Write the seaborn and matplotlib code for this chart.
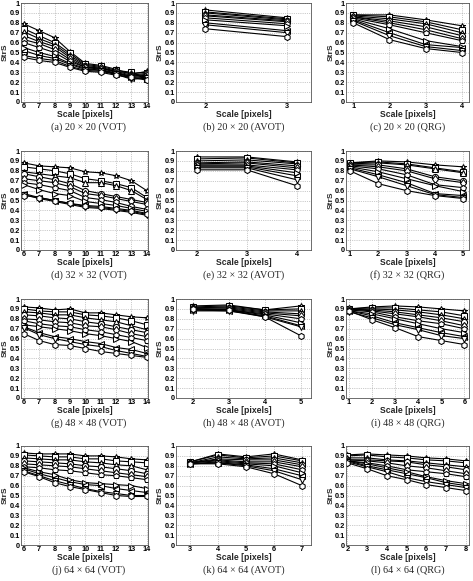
import numpy as np
import pandas as pd
import seaborn as sns
import matplotlib.pyplot as plt

# ---- data (10 curves per panel, top to bottom) ----
SCALE_VOT = [6, 7, 8, 9, 10, 11, 12, 13, 14]

VOT_20 = [
    [0.79, 0.72, 0.65, 0.51, 0.39, 0.37, 0.33, 0.28, 0.31],
    [0.74, 0.67, 0.60, 0.49, 0.38, 0.36, 0.32, 0.30, 0.23],
    [0.71, 0.64, 0.58, 0.47, 0.37, 0.35, 0.31, 0.29, 0.30],
    [0.67, 0.61, 0.56, 0.45, 0.36, 0.34, 0.31, 0.27, 0.29],
    [0.63, 0.59, 0.53, 0.43, 0.35, 0.34, 0.30, 0.26, 0.28],
    [0.60, 0.55, 0.50, 0.41, 0.35, 0.33, 0.29, 0.26, 0.27],
    [0.55, 0.50, 0.46, 0.39, 0.34, 0.32, 0.29, 0.25, 0.26],
    [0.52, 0.47, 0.44, 0.38, 0.33, 0.32, 0.28, 0.24, 0.25],
    [0.47, 0.44, 0.42, 0.36, 0.32, 0.31, 0.28, 0.23, 0.24],
    [0.45, 0.42, 0.40, 0.35, 0.31, 0.30, 0.27, 0.25, 0.22],
]
AVOT_20 = [
    [0.93, 0.85], [0.91, 0.84], [0.90, 0.83], [0.88, 0.82], [0.87, 0.81],
    [0.85, 0.79], [0.83, 0.77], [0.80, 0.72], [0.78, 0.70], [0.74, 0.66],
]
QRG_20 = [
    [0.88, 0.88, 0.83, 0.77],
    [0.88, 0.86, 0.81, 0.73],
    [0.87, 0.84, 0.79, 0.70],
    [0.86, 0.82, 0.76, 0.67],
    [0.86, 0.80, 0.73, 0.64],
    [0.85, 0.78, 0.70, 0.62],
    [0.84, 0.74, 0.62, 0.56],
    [0.83, 0.70, 0.58, 0.55],
    [0.82, 0.67, 0.56, 0.52],
    [0.80, 0.63, 0.54, 0.50],
]
VOT_32 = [
    [0.88, 0.85, 0.84, 0.83, 0.79, 0.78, 0.75, 0.70, 0.60],
    [0.84, 0.82, 0.80, 0.77, 0.72, 0.70, 0.67, 0.63, 0.53],
    [0.79, 0.77, 0.75, 0.73, 0.68, 0.68, 0.65, 0.60, 0.51],
    [0.77, 0.74, 0.71, 0.67, 0.60, 0.57, 0.54, 0.51, 0.48],
    [0.72, 0.70, 0.68, 0.64, 0.57, 0.55, 0.52, 0.49, 0.46],
    [0.68, 0.66, 0.63, 0.60, 0.53, 0.51, 0.48, 0.44, 0.41],
    [0.66, 0.61, 0.57, 0.55, 0.49, 0.47, 0.45, 0.42, 0.39],
    [0.57, 0.53, 0.50, 0.47, 0.45, 0.44, 0.42, 0.40, 0.37],
    [0.56, 0.52, 0.49, 0.46, 0.43, 0.42, 0.40, 0.38, 0.35],
    [0.55, 0.53, 0.50, 0.47, 0.44, 0.43, 0.41, 0.39, 0.36],
]
AVOT_32 = [
    [0.94, 0.94, 0.89], [0.92, 0.93, 0.88], [0.90, 0.91, 0.87],
    [0.88, 0.89, 0.85], [0.87, 0.88, 0.83], [0.86, 0.86, 0.81],
    [0.85, 0.85, 0.78], [0.84, 0.84, 0.75], [0.83, 0.83, 0.71],
    [0.81, 0.81, 0.65],
]
QRG_32 = [
    [0.88, 0.90, 0.89, 0.86, 0.84],
    [0.88, 0.89, 0.87, 0.83, 0.79],
    [0.87, 0.88, 0.86, 0.82, 0.78],
    [0.86, 0.86, 0.82, 0.74, 0.70],
    [0.86, 0.84, 0.80, 0.72, 0.68],
    [0.85, 0.82, 0.76, 0.66, 0.63],
    [0.84, 0.79, 0.72, 0.65, 0.59],
    [0.83, 0.76, 0.68, 0.57, 0.55],
    [0.82, 0.74, 0.65, 0.56, 0.53],
    [0.80, 0.67, 0.60, 0.55, 0.52],
]
VOT_48 = [
    [0.92, 0.91, 0.89, 0.90, 0.86, 0.86, 0.84, 0.82, 0.81],
    [0.90, 0.88, 0.87, 0.87, 0.84, 0.83, 0.81, 0.78, 0.74],
    [0.87, 0.86, 0.84, 0.84, 0.81, 0.79, 0.77, 0.73, 0.69],
    [0.84, 0.83, 0.81, 0.80, 0.77, 0.75, 0.72, 0.69, 0.66],
    [0.80, 0.79, 0.77, 0.76, 0.73, 0.72, 0.69, 0.65, 0.62],
    [0.78, 0.75, 0.73, 0.72, 0.69, 0.67, 0.64, 0.61, 0.58],
    [0.74, 0.72, 0.70, 0.68, 0.65, 0.63, 0.60, 0.57, 0.51],
    [0.72, 0.66, 0.62, 0.60, 0.57, 0.55, 0.51, 0.49, 0.45],
    [0.71, 0.64, 0.60, 0.57, 0.54, 0.52, 0.48, 0.45, 0.42],
    [0.65, 0.58, 0.54, 0.53, 0.50, 0.47, 0.45, 0.43, 0.41],
]
AVOT_48 = [
    [0.93, 0.94, 0.89, 0.93], [0.92, 0.93, 0.89, 0.90], [0.91, 0.92, 0.88, 0.88],
    [0.91, 0.91, 0.87, 0.85], [0.90, 0.90, 0.86, 0.83], [0.90, 0.89, 0.85, 0.80],
    [0.89, 0.89, 0.84, 0.76], [0.89, 0.88, 0.83, 0.73], [0.88, 0.88, 0.82, 0.72],
    [0.90, 0.89, 0.82, 0.63],
]
QRG_48 = [
    [0.90, 0.92, 0.93, 0.92, 0.90, 0.88],
    [0.90, 0.91, 0.91, 0.89, 0.87, 0.83],
    [0.89, 0.90, 0.89, 0.87, 0.84, 0.80],
    [0.89, 0.89, 0.87, 0.84, 0.81, 0.77],
    [0.90, 0.88, 0.85, 0.82, 0.78, 0.73],
    [0.89, 0.87, 0.82, 0.78, 0.75, 0.70],
    [0.88, 0.85, 0.80, 0.75, 0.70, 0.66],
    [0.88, 0.83, 0.76, 0.71, 0.66, 0.62],
    [0.87, 0.81, 0.74, 0.69, 0.63, 0.60],
    [0.88, 0.79, 0.71, 0.62, 0.58, 0.54],
]
VOT_64 = [
    [0.93, 0.92, 0.92, 0.92, 0.90, 0.90, 0.89, 0.87, 0.86],
    [0.91, 0.90, 0.89, 0.89, 0.87, 0.87, 0.85, 0.84, 0.83],
    [0.88, 0.87, 0.86, 0.86, 0.84, 0.83, 0.81, 0.80, 0.76],
    [0.85, 0.84, 0.83, 0.82, 0.80, 0.79, 0.77, 0.75, 0.72],
    [0.82, 0.81, 0.80, 0.79, 0.77, 0.75, 0.73, 0.71, 0.69],
    [0.79, 0.78, 0.76, 0.75, 0.73, 0.71, 0.70, 0.68, 0.66],
    [0.78, 0.74, 0.71, 0.66, 0.63, 0.62, 0.61, 0.60, 0.57],
    [0.77, 0.72, 0.68, 0.64, 0.61, 0.60, 0.57, 0.55, 0.53],
    [0.75, 0.70, 0.65, 0.61, 0.57, 0.54, 0.52, 0.50, 0.50],
    [0.74, 0.69, 0.63, 0.59, 0.56, 0.53, 0.50, 0.49, 0.49],
]
AVOT_64 = [
    [0.84, 0.92, 0.89, 0.92, 0.86],
    [0.84, 0.91, 0.88, 0.90, 0.85],
    [0.83, 0.89, 0.87, 0.88, 0.83],
    [0.83, 0.87, 0.86, 0.86, 0.81],
    [0.83, 0.86, 0.84, 0.84, 0.79],
    [0.83, 0.85, 0.83, 0.82, 0.76],
    [0.82, 0.84, 0.82, 0.80, 0.73],
    [0.82, 0.83, 0.81, 0.77, 0.70],
    [0.82, 0.83, 0.80, 0.75, 0.66],
    [0.82, 0.82, 0.79, 0.72, 0.60],
]
QRG_64 = [
    [0.91, 0.92, 0.91, 0.90, 0.88, 0.87, 0.85],
    [0.90, 0.91, 0.89, 0.88, 0.86, 0.85, 0.83],
    [0.88, 0.88, 0.86, 0.85, 0.83, 0.81, 0.79],
    [0.86, 0.86, 0.85, 0.84, 0.81, 0.79, 0.76],
    [0.86, 0.85, 0.83, 0.80, 0.78, 0.75, 0.72],
    [0.85, 0.83, 0.80, 0.76, 0.74, 0.72, 0.69],
    [0.85, 0.82, 0.78, 0.74, 0.69, 0.65, 0.62],
    [0.85, 0.80, 0.76, 0.72, 0.68, 0.63, 0.60],
    [0.84, 0.79, 0.74, 0.68, 0.64, 0.61, 0.58],
    [0.83, 0.77, 0.70, 0.66, 0.61, 0.58, 0.55],
]

# panel: data, scales, xlim, caption
PANELS = [
    (VOT_20, SCALE_VOT, (5.82, 14.08), '(a) 20 \u00d7 20 (VOT)'),
    (AVOT_20, [2, 3], (1.64, 3.29), '(b) 20 \u00d7 20 (AVOT)'),
    (QRG_20, [1, 2, 3, 4], (0.8, 4.2), '(c) 20 \u00d7 20 (QRG)'),
    (VOT_32, SCALE_VOT, (5.82, 14.08), '(d) 32 \u00d7 32 (VOT)'),
    (AVOT_32, [2, 3, 4], (1.58, 4.29), '(e) 32 \u00d7 32 (AVOT)'),
    (QRG_32, [1, 2, 3, 4, 5], (0.86, 5.21), '(f) 32 \u00d7 32 (QRG)'),
    (VOT_48, SCALE_VOT, (5.82, 14.08), '(g) 48 \u00d7 48 (VOT)'),
    (AVOT_48, [2, 3, 4, 5], (1.53, 5.29), '(h) 48 \u00d7 48 (AVOT)'),
    (QRG_48, [1, 2, 3, 4, 5, 6], (0.87, 6.2), '(i) 48 \u00d7 48 (QRG)'),
    (VOT_64, SCALE_VOT, (5.82, 14.08), '(j) 64 \u00d7 64 (VOT)'),
    (AVOT_64, [3, 4, 5, 6, 7], (2.49, 7.33), '(k) 64 \u00d7 64 (AVOT)'),
    (QRG_64, [2, 3, 4, 5, 6, 7, 8], (1.93, 8.17), '(l) 64 \u00d7 64 (QRG)'),
]

MARKERS = ['*', 's', '^', 'o', 'd', 'p', '>', '<', 'v', 'h']
SERIES = [f'c{i}' for i in range(len(MARKERS))]

sns.set_theme(style='white')
plt.rcParams['font.family'] = ['Liberation Sans', 'DejaVu Sans']

W, H = 473, 581
fig = plt.figure(figsize=(W / 100, H / 100), dpi=100)

COLS = [(21, 148), (176, 311), (346, 469)]
YLAB_X = [5, 160, 331]   # centre of the "StrS" label, pixels
ROW_TOP = [3, 151, 299, 446]
AX_H = 99

for k, (vals, xs, xlim, cap) in enumerate(PANELS):
    r, c = divmod(k, 3)
    x0, x1 = COLS[c]
    top = ROW_TOP[r]
    ax = fig.add_axes([x0 / W, 1 - (top + AX_H) / H, (x1 - x0) / W, AX_H / H])

    df = pd.DataFrame([
        {'scale': x, 'strs': v, 'series': SERIES[i]}
        for i, row in enumerate(vals) for x, v in zip(xs, row)
    ])
    sns.lineplot(data=df, x='scale', y='strs', style='series',
                 markers=dict(zip(SERIES, MARKERS)), dashes=False,
                 color='black', linewidth=0.8, markersize=4.4,
                 markerfacecolor='white', markeredgecolor='black',
                 markeredgewidth=0.75, legend=False, errorbar=None, ax=ax)

    ax.set_xlim(*xlim)
    ax.set_ylim(0, 1)
    ax.set_xticks(xs)
    ax.set_yticks(np.round(np.arange(0, 1.01, 0.1), 1))
    ax.set_yticklabels(['0'] + [f'{t:.1f}' for t in np.arange(0.1, 0.95, 0.1)] + ['1'])
    ax.grid(True, linestyle=':', linewidth=0.5, color='#9a9a9a')
    ax.tick_params(direction='in', length=2, width=0.5, pad=1.0,
                   labelsize=5.3, colors='black')
    for lab in ax.get_xticklabels() + ax.get_yticklabels():
        lab.set_fontweight('bold')
    for sp in ax.spines.values():
        sp.set_visible(True)
        sp.set_linewidth(0.6)
        sp.set_color('#555555')
    ax.set_xlabel('Scale [pixels]', fontsize=6.2, fontweight='bold', labelpad=0)
    ax.set_ylabel('StrS', fontsize=6.0, fontweight='bold', va='center')
    ax.yaxis.set_label_coords((YLAB_X[c] - x0) / (x1 - x0), 0.5)

    fig.text((x0 + x1) / 2 / W + (4 / W if c == 0 else 0), 1 - (top + 124) / H, cap,
             ha='center', va='center', fontsize=7.3, family='Liberation Serif')

fig.savefig('out.png', dpi=100, facecolor='white')
